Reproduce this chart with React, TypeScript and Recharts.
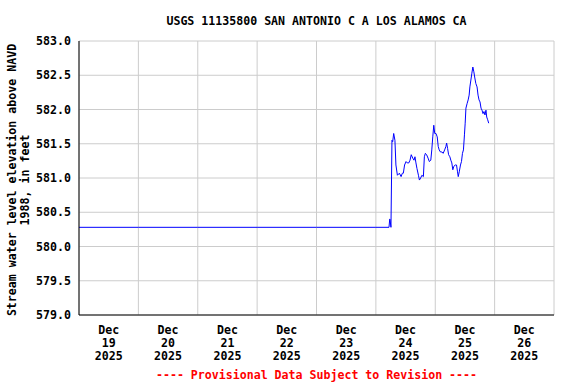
import React from "react"
import { LineChart, Line, XAxis, YAxis, CartesianGrid } from "recharts"

// hours after Dec 19 2025 00:00
const hours = [
  0, 24, 48, 72, 96, 120, 125.3, 125.6, 125.7, 126.1, 126.5, 126.8, 127.2, 127.7, 128.1, 128.7,
  129.5, 130.2, 130.7, 131.1, 131.6, 132.2, 132.7, 133.3, 133.8, 134.3, 134.9, 135.4, 135.8,
  136.2, 136.6, 137.2, 137.6, 138.1, 138.6, 139.2, 139.6, 140.0, 140.5, 141.1, 141.6, 142.2,
  142.6, 143.0, 143.4, 143.8, 144.3, 144.8, 145.2, 145.6, 146.1, 146.7, 147.2, 147.8, 148.3,
  148.6, 149.0, 149.4, 149.9, 150.3, 150.7, 151.1, 151.5, 152.1, 152.6, 153.0, 153.3, 153.7,
  154.2, 154.6, 155.0, 155.4, 155.8, 156.1, 156.4, 156.9, 157.3, 157.7, 158.0, 158.4, 158.8,
  159.2, 159.6, 160.0, 160.4, 160.9, 161.3, 161.7, 162.1, 162.5, 162.9, 163.3, 163.7, 164.1,
  164.5, 164.8, 165.2, 165.6,
]

const stage = [
  580.28, 580.28, 580.28, 580.28, 580.28, 580.28, 580.28, 580.4, 580.4, 580.28, 581.55, 581.53,
  581.65, 581.55, 581.19, 581.04, 581.07, 581.02, 581.07, 581.07, 581.19, 581.24, 581.22, 581.22,
  581.26, 581.34, 581.29, 581.26, 581.31, 581.22, 581.14, 581.04, 580.97, 581.0, 581.04, 581.02,
  581.31, 581.36, 581.34, 581.29, 581.24, 581.26, 581.41, 581.6, 581.77, 581.65, 581.65, 581.6,
  581.46, 581.41, 581.38, 581.38, 581.36, 581.41, 581.46, 581.51, 581.43, 581.34, 581.31, 581.26,
  581.22, 581.12, 581.17, 581.19, 581.19, 581.09, 581.02, 581.09, 581.19, 581.24, 581.36, 581.41,
  581.63, 581.8, 582.02, 582.09, 582.14, 582.21, 582.33, 582.43, 582.53, 582.62, 582.55, 582.46,
  582.38, 582.33, 582.21, 582.14, 582.11, 582.02, 581.99, 581.94, 581.97, 581.92, 581.99, 581.89,
  581.85, 581.8,
]

const dayTicks = [0, 24, 48, 72, 96, 120, 144, 168, 192]
const dayLabels = ["19", "20", "21", "22", "23", "24", "25", "26"]
const yTicks = [579, 579.5, 580, 580.5, 581, 581.5, 582, 582.5, 583]

const title = "USGS 11135800 SAN ANTONIO C A LOS ALAMOS CA"
const yLabel1 = "Stream water level elevation above NAVD"
const yLabel2 = "1988, in feet"
const footer = "---- Provisional Data Subject to Revision ----"

const data = hours.map((h, i) => ({ h, v: stage[i] }))

const font = "'DejaVu Sans Mono', monospace"
const W = 576
const H = 384
const margin = { top: 41, right: 22, left: 19, bottom: 9 }
const yAxisW = 60
const xAxisH = 60
const dayPx = (W - margin.left - yAxisW - margin.right) / 8

const DayTick = (props: any) => {
  const { x, y, index } = props
  if (index >= dayLabels.length) return null
  const cx = x + dayPx / 2
  return (
    <text x={cx} y={y} textAnchor="middle" fontFamily={font} fontWeight="bold" fontSize={11.6} fill="#000">
      <tspan x={cx} dy={13}>Dec</tspan>
      <tspan x={cx} dy={13}>{dayLabels[index]}</tspan>
      <tspan x={cx} dy={13}>2025</tspan>
    </text>
  )
}

const YLabel = (props: any) => {
  const vb = props.viewBox
  const cy = vb.y + vb.height / 2 + 2
  return (
    <g fontFamily={font} fontWeight="bold" fontSize={11.6} fill="#000">
      <text x={16} y={cy} textAnchor="middle" transform={`rotate(-90 16 ${cy})`}>{yLabel1}</text>
      <text x={29} y={cy} textAnchor="middle" transform={`rotate(-90 29 ${cy})`}>{yLabel2}</text>
    </g>
  )
}

export default function App() {
  const plotCx = margin.left + yAxisW + (W - margin.left - yAxisW - margin.right) / 2
  return (
    <div style={{ position: "absolute", left: 0, top: 0, width: W, height: H, background: "#fff" }}>
      <LineChart width={W} height={H} data={data} margin={margin}>
        <text x={plotCx} y={25} textAnchor="middle" fontFamily={font} fontWeight="bold" fontSize={11.6} fill="#000">
          {title}
        </text>
        <text x={plotCx} y={379} textAnchor="middle" fontFamily={font} fontWeight="bold" fontSize={11.6} fill="#ff0000">
          {footer}
        </text>
        <CartesianGrid stroke="#cccccc" strokeWidth={1} />
        <XAxis
          dataKey="h"
          type="number"
          domain={[0, 192]}
          ticks={dayTicks}
          interval={0}
          height={xAxisH}
          tickLine={false}
          tickSize={0}
          tickMargin={6}
          axisLine={{ stroke: "#000" }}
          tick={<DayTick />}
        />
        <XAxis xAxisId="top" orientation="top" type="number" domain={[0, 192]} height={0} tick={false} tickLine={false} axisLine={{ stroke: "#000" }} />
        <YAxis
          type="number"
          domain={[579, 583]}
          ticks={yTicks}
          interval={0}
          width={yAxisW}
          tickLine={false}
          tickSize={0}
          tickMargin={8}
          axisLine={{ stroke: "#000" }}
          tickFormatter={(v: number) => v.toFixed(1)}
          tick={{ fontFamily: font, fontWeight: "bold", fontSize: 11.6, fill: "#000" }}
          label={<YLabel />}
        />
        <YAxis yAxisId="right" orientation="right" domain={[579, 583]} width={0} tick={false} tickLine={false} axisLine={{ stroke: "#000", strokeWidth: 1.5 }} />
        <Line
          type="linear"
          dataKey="v"
          stroke="#0000ff"
          strokeWidth={1}
          dot={false}
          isAnimationActive={false}
        />
      </LineChart>
    </div>
  )
}
